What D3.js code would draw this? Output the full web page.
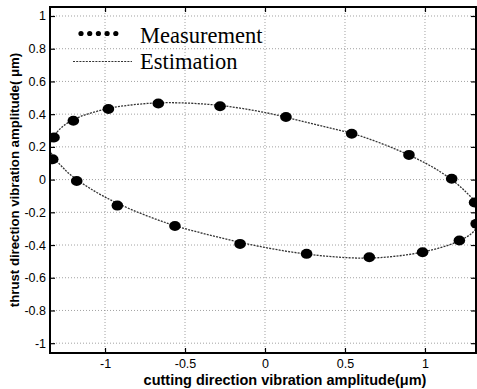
<!DOCTYPE html>
<html>
<head>
<meta charset="utf-8">
<script src="https://cdn.jsdelivr.net/npm/d3@7/dist/d3.min.js"></script>
<style>
  html, body { margin: 0; padding: 0; background: #fff; }
  svg { display: block; }
</style>
</head>
<body>
<svg id="chart" width="477" height="389"></svg>
<script>
// Measured vibration amplitudes (cutting direction x, thrust direction y), in µm
const measX = [-1.319, -1.198, -0.979, -0.667, -0.281, 0.131, 0.542, 0.900, 1.167, 1.310,
               1.320, 1.215, 0.985, 0.652, 0.260, -0.156, -0.563, -0.923, -1.177, -1.327];
const measY = [0.257, 0.360, 0.432, 0.465, 0.448, 0.383, 0.280, 0.151, 0.005, -0.140,
               -0.270, -0.372, -0.444, -0.475, -0.454, -0.393, -0.284, -0.159, -0.009, 0.124];

// Estimated vibration locus (closed curve), in µm
const estX = [-1.345, -1.30, -1.20, -1.00, -0.80, -0.60, -0.30, 0.00, 0.30, 0.60, 0.90, 1.10, 1.25,
              1.345, 1.31, 1.20, 1.00, 0.80, 0.60, 0.30, 0.00, -0.30, -0.60, -0.90, -1.10, -1.25];
const estY = [0.190, 0.290, 0.365, 0.430, 0.460, 0.470, 0.455, 0.410, 0.340, 0.265, 0.150, 0.045, -0.070,
              -0.190, -0.310, -0.380, -0.440, -0.470, -0.480, -0.460, -0.415, -0.350, -0.270, -0.155, -0.050, 0.060];

// Tick values
const xTicks = [-1, -0.5, 0, 0.5, 1];
const yTicks = [-1, -0.8, -0.6, -0.4, -0.2, 0, 0.2, 0.4, 0.6, 0.8, 1];

const legendLabels = ["Measurement", "Estimation"];
const xLabel = "cutting direction vibration amplitude(\u03bcm)";
const yLabel = "thrust direction vibration amplitude( \u03bcm)";

const W = 477, H = 389;
const margin = { left: 50, right: 1, top: 7, bottom: 36 };
const svg = d3.select("#chart");

const x = d3.scaleLinear().domain([-1.344, 1.319]).range([margin.left, W - margin.right]);
const y = d3.scaleLinear().domain([-1.06, 1.055]).range([H - margin.bottom, margin.top]);

const x0 = margin.left, x1 = W - margin.right, y0 = margin.top, y1 = H - margin.bottom;

svg.append("defs").append("clipPath").attr("id", "plotClip")
  .append("rect").attr("x", x0).attr("y", y0).attr("width", x1 - x0).attr("height", y1 - y0);

// Grid
const grid = svg.append("g").attr("stroke", "#8a8a8a").attr("stroke-width", 0.8)
  .attr("stroke-dasharray", "1,2");
grid.selectAll("line.gx").data(xTicks).join("line")
  .attr("x1", d => x(d)).attr("x2", d => x(d)).attr("y1", y0).attr("y2", y1);
grid.selectAll("line.gy").data(yTicks).join("line")
  .attr("y1", d => y(d)).attr("y2", d => y(d)).attr("x1", x0).attr("x2", x1);

// Estimated curve
const est = estX.map((v, i) => [v, estY[i]]);
svg.append("path")
  .attr("clip-path", "url(#plotClip)")
  .attr("d", d3.line().x(d => x(d[0])).y(d => y(d[1])).curve(d3.curveCatmullRomClosed)(est))
  .attr("fill", "none").attr("stroke", "#333").attr("stroke-width", 1.3)
  .attr("stroke-dasharray", "2,1.2");

// Measurement points
const meas = measX.map((v, i) => [v, measY[i]]);
svg.append("g").attr("clip-path", "url(#plotClip)")
  .selectAll("ellipse").data(meas).join("ellipse")
  .attr("cx", d => x(d[0])).attr("cy", d => y(d[1]))
  .attr("rx", 5.8).attr("ry", 5.0).attr("fill", "#000");

// Axes (ticks pointing inward on all four sides)
const fmt = d => String(d);
const axB = svg.append("g").attr("transform", `translate(0,${y1})`)
  .call(d3.axisBottom(x).tickValues(xTicks).tickSizeInner(-5).tickSizeOuter(0).tickPadding(6).tickFormat(fmt));
const axT = svg.append("g").attr("transform", `translate(0,${y0})`)
  .call(d3.axisTop(x).tickValues(xTicks).tickSizeInner(-5).tickSizeOuter(0).tickFormat(""));
const axL = svg.append("g").attr("transform", `translate(${x0},0)`)
  .call(d3.axisLeft(y).tickValues(yTicks).tickSizeInner(-5).tickSizeOuter(0).tickPadding(4).tickFormat(fmt));
const axR = svg.append("g").attr("transform", `translate(${x1},0)`)
  .call(d3.axisRight(y).tickValues(yTicks).tickSizeInner(-5).tickSizeOuter(0).tickFormat(""));

[axB, axT, axL, axR].forEach(a => {
  a.select(".domain").remove();
  a.selectAll(".tick line").attr("stroke", "#000").attr("stroke-width", 1.2);
  a.selectAll("text").attr("font-family", "Liberation Sans, Arial, sans-serif")
    .attr("font-size", 12.5).attr("fill", "#000");
});

// Frame
svg.append("rect").attr("x", x0).attr("y", y0).attr("width", x1 - x0).attr("height", y1 - y0)
  .attr("fill", "none").attr("stroke", "#000").attr("stroke-width", 2);

// Legend
const lg = svg.append("g").attr("font-family", "Liberation Serif, Times New Roman, serif")
  .attr("font-size", 22.5).attr("fill", "#000");
lg.selectAll("circle").data(d3.range(5)).join("circle")
  .attr("cx", d => 81 + d * 8.7).attr("cy", 33.5).attr("r", 2.6).attr("fill", "#000");
lg.append("line").attr("x1", 73).attr("x2", 132).attr("y1", 61.5).attr("y2", 61.5)
  .attr("stroke", "#333").attr("stroke-width", 1.2).attr("stroke-dasharray", "2,1.2");
lg.selectAll("text").data(legendLabels).join("text")
  .attr("x", 140).attr("y", (d, i) => 43 + i * 26).text(d => d);

// Axis titles
svg.append("text").attr("x", 285).attr("y", 385)
  .attr("text-anchor", "middle").attr("font-family", "Liberation Sans, Arial, sans-serif")
  .attr("font-weight", "bold").attr("font-size", 14.5).text(xLabel);
svg.append("text").attr("transform", "translate(19,180) rotate(-90)")
  .attr("text-anchor", "middle").attr("font-family", "Liberation Sans, Arial, sans-serif")
  .attr("font-weight", "bold").attr("font-size", 13.2).text(yLabel);
</script>
</body>
</html>
